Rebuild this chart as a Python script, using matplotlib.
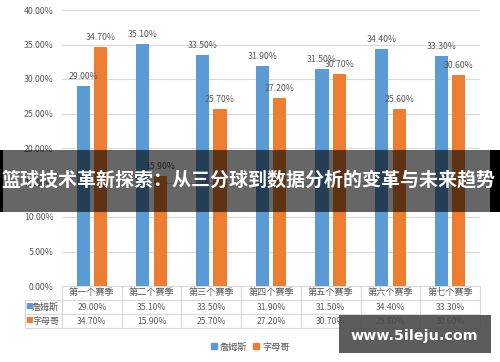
import matplotlib
matplotlib.use("Agg")
import matplotlib.pyplot as plt
from matplotlib.patches import Rectangle
from matplotlib.lines import Line2D
import numpy as np

plt.rcParams['font.family'] = ['Noto Sans CJK SC', 'DejaVu Sans']

categories = ["第一个赛季", "第二个赛季", "第三个赛季", "第四个赛季", "第五个赛季", "第六个赛季", "第七个赛季"]
series_names = ["詹姆斯", "字母哥"]
james = [29.00, 35.10, 33.50, 31.90, 31.50, 34.40, 33.30]
giannis = [34.70, 15.90, 25.70, 27.20, 30.70, 25.60, 30.60]
yticks = [0, 5, 10, 15, 20, 25, 30, 35, 40]
title = "篮球技术革新探索：从三分球到数据分析的变革与未来趋势"
watermark = "www.5ileju.com"

BLUE = "#5B9BD5"
ORANGE = "#ED7D31"
GRAY = "#595959"
GRID = "#D9D9D9"

W, H = 500, 362
fig = plt.figure(figsize=(W / 100, H / 100), dpi=100)
ax_l, ax_r, ax_t, ax_b = 62, 480, 10, 286
ax = fig.add_axes([ax_l / W, 1 - ax_b / H, (ax_r - ax_l) / W, (ax_b - ax_t) / H])

x = np.arange(len(categories))
bw = 0.22
off = 0.145
b1 = ax.bar(x - off, james, width=bw, color=BLUE, zorder=2)
b2 = ax.bar(x + off, giannis, width=bw, color=ORANGE, zorder=2)
for bars, vals in ((b1, james), (b2, giannis)):
    for rect, v in zip(bars, vals):
        ax.annotate(f"{v:.2f}%", (rect.get_x() + rect.get_width() / 2, v),
                    xytext=(0, 3.5), textcoords="offset points",
                    ha="center", va="bottom", fontsize=6.3, color=GRAY)

ax.set_xlim(-0.5, len(categories) - 0.5)
ax.set_ylim(0, 40)
ax.set_yticks(yticks)
ax.set_yticklabels([f"{v:.2f}%" for v in yticks], fontsize=6.3, color=GRAY)
ax.tick_params(axis="y", length=0, pad=6)
ax.set_xticks([])
ax.grid(axis="y", color=GRID, linewidth=0.8, zorder=0)
ax.set_axisbelow(True)
for s in ax.spines.values():
    s.set_visible(False)

# data table
axw = ax_r - ax_l
axh = ax_b - ax_t
lab_w = (ax_l - 25) / axw
tab_h = 42 / axh
cell_text = [[""] + [f"{v:.2f}%" for v in james],
             [""] + [f"{v:.2f}%" for v in giannis]]
tbl = ax.table(cellText=cell_text, colLabels=[""] + categories,
               colWidths=[lab_w] + [1 / len(categories)] * len(categories),
               cellLoc="center", bbox=[-lab_w, -tab_h, 1 + lab_w, tab_h])
tbl.auto_set_font_size(False)
tbl.set_fontsize(6.2)
for (r, c), cell in tbl.get_celld().items():
    cell.set_edgecolor(GRID)
    cell.set_linewidth(0.8)
    cell.get_text().set_color(GRAY)
    if r == 0:
        cell.get_text().set_fontsize(6.6)
tbl[(0, 0)].visible_edges = "open"

for i, (name, col) in enumerate(zip(series_names, [BLUE, ORANGE])):
    yc = -tab_h / 3 * (i + 1.5)
    ax.text((25.5 - ax_l) / axw, yc, "■", transform=ax.transAxes, color=col,
            fontsize=5.5, ha="left", va="center", clip_on=False)
    ax.text((32 - ax_l) / axw, yc, name, transform=ax.transAxes, color=GRAY,
            fontsize=6.5, ha="left", va="center", clip_on=False)

handles = [Line2D([], [], marker="s", ls="", color=BLUE, markersize=4.5),
           Line2D([], [], marker="s", ls="", color=ORANGE, markersize=4.5)]
fig.legend(handles, series_names, loc="center", bbox_to_anchor=(250 / W, 1 - 347 / H),
           ncol=2, frameon=False, fontsize=6.6, labelcolor=GRAY,
           handlelength=0.8, handletextpad=0.2, columnspacing=0.6)

# overlay banner
by0, by1 = 150, 212
fig.add_artist(Rectangle((0, 1 - by1 / H), 1, (by1 - by0) / H, transform=fig.transFigure,
                         facecolor="black", alpha=0.6, edgecolor="none", zorder=5))
fig.add_artist(Rectangle((0, 1 - by1 / H), 3 / W, (by1 - by0) / H, transform=fig.transFigure,
                         facecolor="black", edgecolor="none", zorder=5))
fig.add_artist(Rectangle((490 / W, 1 - by1 / H), 10 / W, (by1 - by0) / H, transform=fig.transFigure,
                         facecolor="black", edgecolor="none", zorder=5))
fig.text(249 / W, 1 - 180 / H, title, color="white", fontsize=13.7, fontweight="bold",
         ha="center", va="center", zorder=6)

# watermark
fig.add_artist(Rectangle((339 / W, 1 - 353 / H), 152 / W, 38 / H, transform=fig.transFigure,
                         facecolor="#4a4a4a", alpha=0.9, edgecolor="none", zorder=5))
fig.text(414 / W, 1 - 336 / H, watermark, color="white", fontsize=10.3, fontweight="bold",
         family="DejaVu Sans", ha="center", va="center", zorder=6)

fig.savefig("out.png", dpi=100)
